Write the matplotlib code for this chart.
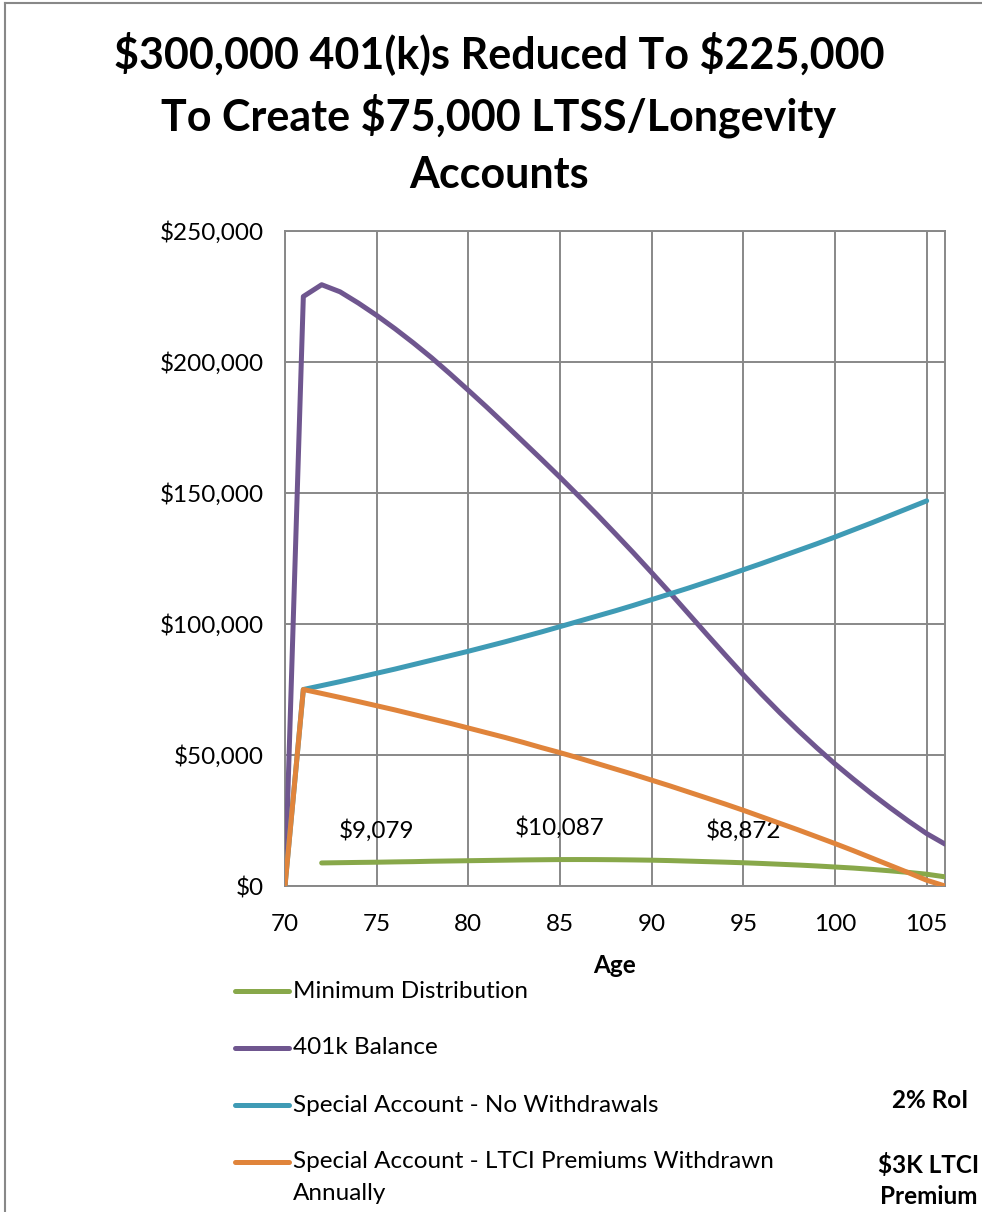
import matplotlib
matplotlib.use('Agg')
import matplotlib.pyplot as plt
from matplotlib.lines import Line2D
import matplotlib.ticker as ticker

plt.rcParams['font.family'] = ['Lato', 'DejaVu Sans']

# ages 70..106
ages = list(range(70, 107))

min_dist_ages = list(range(72, 107))
min_dist = [8800, 8900, 9000, 9079, 9200, 9300, 9450, 9550, 9650, 9750,
            9850, 9950, 10020, 10087, 10100, 10080, 10030, 9950, 9850, 9700,
            9500, 9300, 9100, 8872, 8600, 8300, 8000, 7650, 7250, 6850,
            6350, 5800, 5200, 4500, 3500]

bal_401k = [0, 225000, 229500, 226800, 222500, 217800, 212700, 207300, 201600, 195500,
            189200, 182800, 176200, 169500, 162800, 156000, 149000, 141900, 134600, 127200,
            119600, 111900, 104000, 96100, 88300, 80600, 73200, 66100, 59300, 52800,
            46600, 40800, 35200, 29900, 24800, 20000, 16000]

no_wd_ages = list(range(70, 106))
no_wd = [0, 75000, 76500, 78000, 79600, 81200, 82800, 84500, 86200, 87900,
         89600, 91400, 93200, 95100, 97000, 99000, 101000, 103000, 105000, 107100,
         109300, 111500, 113700, 116000, 118300, 120700, 123100, 125600, 128100, 130600,
         133200, 135900, 138600, 141400, 144200, 147000]

ltci_wd = [0, 75000, 73500, 71970, 70400, 68800, 67200, 65500, 63800, 62100,
           60300, 58500, 56700, 54800, 52800, 50900, 48900, 46800, 44700, 42600,
           40400, 38200, 35900, 33600, 31300, 28900, 26400, 23900, 21400, 18800,
           16200, 13500, 10700, 7900, 5100, 2200, 0]

label_ages = [75, 85, 95]
label_vals = [9079, 10087, 8872]

series_names = ['Minimum Distribution', '401k Balance', 'Special Account - No Withdrawals',
                'Special Account - LTCI Premiums Withdrawn\nAnnually']
colors = ['#88a84a', '#6f568f', '#3f9bb5', '#e0843b']

FS = 17.5
W, H = 982, 1212
fig = plt.figure(figsize=(W / 100, H / 100), dpi=100)
ax = fig.add_axes([285 / W, 1 - 886 / H, (945 - 285) / W, (886 - 231) / H])

lw = 3.6
ax.plot(min_dist_ages, min_dist, color=colors[0], lw=lw, solid_capstyle='round', zorder=3)
ax.plot(ages, bal_401k, color=colors[1], lw=lw, solid_capstyle='round', zorder=3)
ax.plot(no_wd_ages, no_wd, color=colors[2], lw=lw, solid_capstyle='round', zorder=3)
ax.plot(ages, ltci_wd, color=colors[3], lw=lw, solid_capstyle='round', zorder=4)

for a, v in zip(label_ages, label_vals):
    ax.annotate(f'${v:,}', (a, v), xytext=(0, 23), textcoords='offset points',
                ha='center', va='center', fontsize=FS)

ax.set_xlim(70, 106)
ax.set_ylim(0, 250000)
ax.xaxis.set_major_locator(ticker.MultipleLocator(5))
ax.yaxis.set_major_locator(ticker.MultipleLocator(50000))
ax.yaxis.set_major_formatter(ticker.FuncFormatter(lambda v, p: f'${v:,.0f}'))
ax.tick_params(length=0, labelsize=FS)
ax.tick_params(axis='x', pad=20)
ax.tick_params(axis='y', pad=15)
ax.grid(True, color='#888888', lw=1.4)
ax.set_axisbelow(True)
for s in ax.spines.values():
    s.set_color('#888888')
    s.set_linewidth(1.4)
ax.set_xlabel('Age', fontsize=FS, fontweight='bold', labelpad=14)

fig.text(0.508, 1 - 113 / H, '\\$300,000 401(k)s Reduced To \\$225,000\nTo Create \\$75,000 LTSS/Longevity\nAccounts',
         ha='center', va='center', fontsize=31, fontweight='bold', linespacing=1.52)

# legend drawn below the plot
leg_y = [991, 1048, 1105, 1162]
for name, c, y in zip(series_names, colors, leg_y):
    fig.add_artist(Line2D([235 / W, 289 / W], [1 - y / H, 1 - y / H], transform=fig.transFigure,
                          color=c, lw=lw, solid_capstyle='round'))
    for i, line in enumerate(name.split('\n')):
        fig.text(293 / W, 1 - (y + 31 * i) / H, line, ha='left', va='center', fontsize=FS)

fig.text(930 / W, 1 - 1100 / H, '2% RoI', ha='center', va='center', fontsize=FS, fontweight='bold')
fig.text(929 / W, 1 - 1165 / H, '$3K LTCI', ha='center', va='center', fontsize=FS, fontweight='bold')
fig.text(929 / W, 1 - 1196 / H, 'Premium', ha='center', va='center', fontsize=FS, fontweight='bold')

# chart border
fig.add_artist(Line2D([5 / W, 5 / W], [0, 1 - 3 / H], transform=fig.transFigure, color='#888888', lw=1.5))
fig.add_artist(Line2D([5 / W, 1], [1 - 3 / H, 1 - 3 / H], transform=fig.transFigure, color='#888888', lw=1.5))

fig.savefig('out.png', dpi=100)
